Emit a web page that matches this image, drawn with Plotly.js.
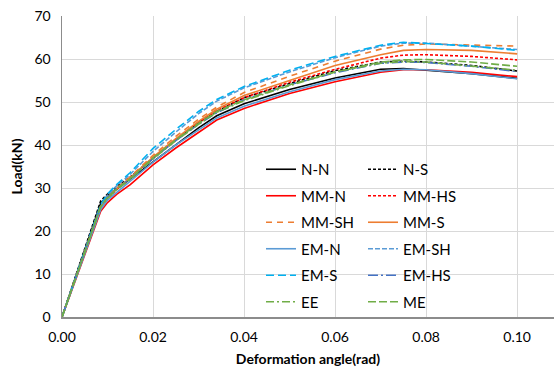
<!DOCTYPE html>
<html>
<head>
<meta charset="utf-8">
<script src="https://cdn.plot.ly/plotly-3.0.1.min.js"></script>
<style>html,body{margin:0;padding:0;background:#fff;}#chart{width:554px;height:370px;}</style>
</head>
<body>
<div id="chart"></div>
<script>
const angle = [0, 0.0085, 0.010, 0.012, 0.015, 0.020, 0.025, 0.030, 0.034, 0.040, 0.050, 0.060, 0.070, 0.075, 0.080, 0.090, 0.100];

const NN   = [0, 26.5, 28.2, 29.8, 32.0, 36.2, 40.2, 44.0, 46.8, 49.6, 52.9, 55.6, 57.6, 57.8, 57.4, 56.6, 55.5];
const NS   = [0, 27.0, 28.6, 30.3, 32.6, 37.0, 41.2, 45.2, 47.8, 51.0, 54.3, 57.3, 59.3, 59.5, 59.3, 58.5, 57.2];
const MMN  = [0, 24.6, 26.6, 28.5, 30.8, 35.4, 39.3, 43.0, 45.8, 48.5, 52.0, 54.7, 56.9, 57.5, 57.5, 56.9, 55.9];
const MMHS = [0, 25.5, 27.6, 29.6, 32.2, 37.0, 41.3, 45.2, 48.0, 51.0, 54.6, 57.6, 60.2, 60.9, 61.0, 60.6, 59.8];
const MMSH = [0, 25.8, 28.0, 30.0, 32.6, 37.6, 42.0, 46.0, 48.8, 52.2, 56.0, 59.5, 62.3, 63.2, 63.5, 63.3, 63.0];
const MMS  = [0, 25.6, 27.8, 29.8, 32.4, 37.2, 41.5, 45.5, 48.3, 51.5, 55.0, 58.5, 61.0, 62.0, 62.2, 62.0, 61.2];
const EMN  = [0, 25.0, 27.2, 29.0, 31.5, 36.0, 40.0, 43.6, 46.3, 49.0, 52.4, 55.2, 57.2, 57.6, 57.5, 56.6, 55.4];
const EMSH = [0, 26.0, 28.3, 30.5, 33.2, 38.5, 43.0, 47.3, 50.2, 53.3, 57.0, 60.3, 63.0, 63.7, 63.7, 63.0, 62.2];
const EMS  = [0, 26.2, 28.6, 30.8, 33.6, 39.2, 43.6, 47.8, 50.6, 53.6, 57.4, 60.6, 63.2, 63.9, 63.6, 63.0, 62.0];
const EMHS = [0, 25.8, 27.8, 29.8, 32.2, 36.8, 41.0, 44.8, 47.5, 50.5, 54.0, 56.8, 59.0, 59.3, 59.2, 58.3, 57.1];
const EE   = [0, 25.6, 27.6, 29.6, 32.0, 36.8, 41.0, 44.8, 47.6, 50.3, 53.8, 57.0, 59.0, 59.4, 59.3, 58.4, 57.4];
const ME   = [0, 25.8, 27.8, 29.8, 32.2, 37.0, 41.2, 45.0, 47.8, 50.5, 54.0, 57.0, 59.3, 59.8, 59.9, 59.3, 58.3];

const names = ['N-N','N-S','MM-N','MM-HS','MM-SH','MM-S','EM-N','EM-SH','EM-S','EM-HS','EE','ME'];
const series = [NN, NS, MMN, MMHS, MMSH, MMS, EMN, EMSH, EMS, EMHS, EE, ME];
const colors = ['#000000','#000000','#FF0000','#FF0000','#ED7D31','#ED7D31','#5B9BD5','#5B9BD5','#00B0F0','#4472C4','#70AD47','#70AD47'];
const dashes = ['solid','3px,2px','solid','3px,2px','6px,5px','solid','solid','5px,2px','8px,4px','10px,3px,2px,3px','8px,3px,2px,3px','8px,3px'];

const traces = series.map((s, i) => ({
  x: angle, y: s, type: 'scatter', mode: 'lines', name: names[i],
  line: {color: colors[i], width: 1.6, dash: dashes[i]},
  legend: (i % 2 === 0) ? 'legend' : 'legend2',
  legendgroup: 'g' + i
}));

const legFont = {family: 'Lato, "Open Sans", sans-serif', size: 15, color: '#000'};
const layout = {
  width: 554, height: 370,
  margin: {l: 62, r: 0, t: 16, b: 53},
  paper_bgcolor: '#fff', plot_bgcolor: '#fff',
  font: {family: 'Lato, "Open Sans", sans-serif', size: 13, color: '#000'},
  showlegend: true,
  xaxis: {
    range: [0, 0.1081], tickvals: [0, 0.02, 0.04, 0.06, 0.08, 0.10],
    ticktext: ['0.00','0.02','0.04','0.06','0.08','0.10'],
    showgrid: true, gridcolor: '#D9D9D9', gridwidth: 1,
    showline: true, linecolor: '#8C8C8C', linewidth: 1.5,
    ticks: '', zeroline: false, ticklabelstandoff: 7,
    tickfont: {size: 14},
    title: {text: '<b>Deformation angle(rad)</b>', font: {size: 14}, standoff: 10}
  },
  yaxis: {
    range: [0, 70], dtick: 10,
    showgrid: true, gridcolor: '#D9D9D9', gridwidth: 1,
    showline: true, linecolor: '#8C8C8C', linewidth: 1.5,
    ticks: '', zeroline: false, ticklabelstandoff: 7,
    tickfont: {size: 14},
    title: {text: '<b>Load(kN)</b>', font: {size: 14}, standoff: 8}
  },
  legend: {
    x: (261 - 62) / 492, y: (317 - 153) / 301, xanchor: 'left', yanchor: 'top',
    bgcolor: 'rgba(0,0,0,0)', font: legFont, traceorder: 'grouped', tracegroupgap: 4
  },
  legend2: {
    x: (363 - 62) / 492, y: (317 - 153) / 301, xanchor: 'left', yanchor: 'top',
    bgcolor: 'rgba(0,0,0,0)', font: legFont, traceorder: 'grouped', tracegroupgap: 4
  }
};

Plotly.newPlot('chart', traces, layout, {displayModeBar: false, staticPlot: true});
</script>
</body>
</html>
